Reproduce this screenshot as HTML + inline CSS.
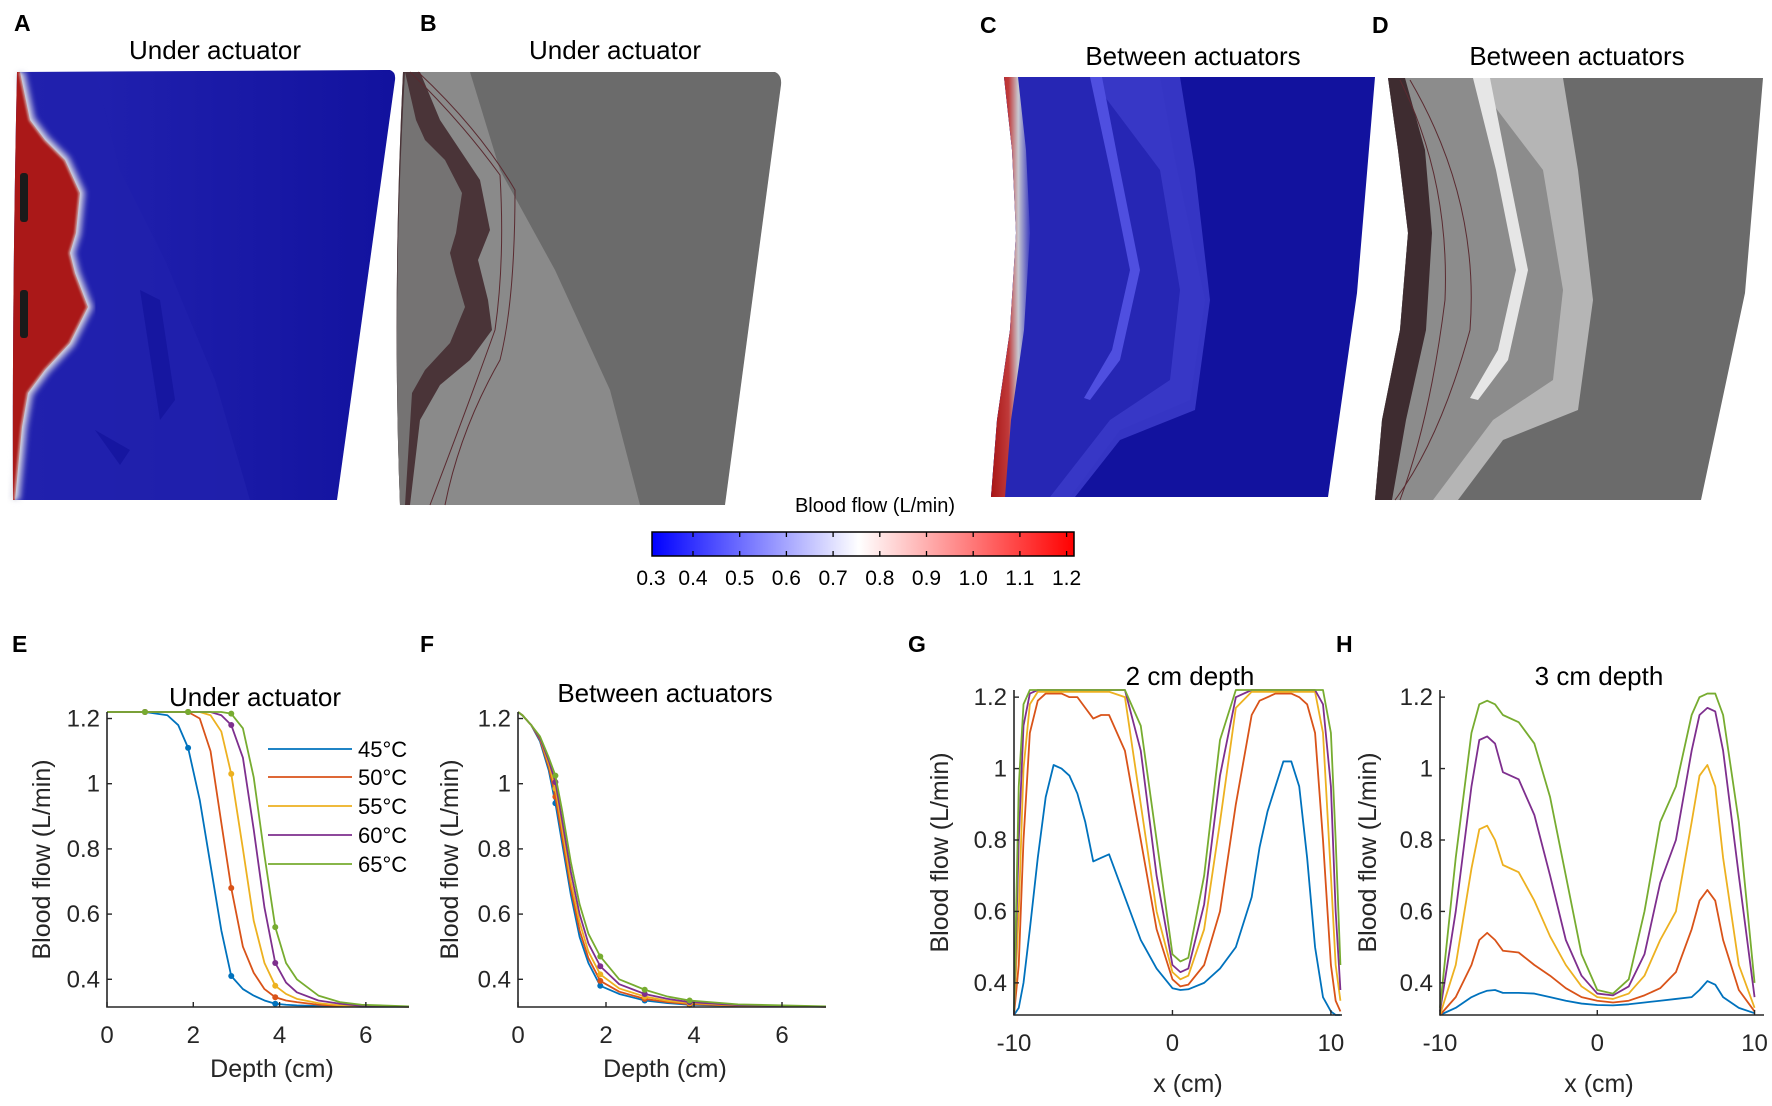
<!DOCTYPE html>
<html><head><meta charset="utf-8"><style>
html,body{margin:0;padding:0;background:#fff;}
svg{display:block;font-family:"Liberation Sans",sans-serif;}
</style></head><body>
<svg id="fig" width="1772" height="1106" viewBox="0 0 1772 1106" xmlns="http://www.w3.org/2000/svg">
<defs>
<linearGradient id="cbar" x1="0" x2="1" y1="0" y2="0">
<stop offset="0" stop-color="#0000ff"/><stop offset="0.49" stop-color="#ffffff"/><stop offset="1" stop-color="#ff0000"/>
</linearGradient>
<linearGradient id="cred" x1="0" x2="1" y1="0" y2="0">
<stop offset="0" stop-color="#a81414"/><stop offset="0.45" stop-color="#c03a3a"/><stop offset="0.7" stop-color="#c8c8d0"/><stop offset="1" stop-color="#3a3ac0"/>
</linearGradient>
<linearGradient id="blueA" x1="0" x2="1" y1="0" y2="0">
<stop offset="0" stop-color="#2424b2"/><stop offset="1" stop-color="#12129e"/>
</linearGradient>
<filter id="blur3"><feGaussianBlur stdDeviation="3"/></filter>
<filter id="blur1"><feGaussianBlur stdDeviation="1.2"/></filter>
</defs>

<!-- Panel A -->
<g>
<text x="14" y="31" font-size="23" font-weight="bold">A</text>
<text x="215" y="59" font-size="26" text-anchor="middle">Under actuator</text>
<path d="M17,72 L390,70 Q396,72 395,80 L337,500 L13,500 Q12,300 17,72 Z" fill="url(#blueA)"/>
<path d="M17,72 L95,72 L120,170 L165,260 L215,380 L250,500 L13,500 Z" fill="#2020ac" opacity="0.8"/>
<path d="M140,290 L160,300 L175,400 L160,420 Z M95,430 L130,450 L120,465 Z" fill="#14149e" opacity="0.8"/>
<path d="M20,72 L30,120 L45,140 L65,160 L80,193 L76,233 L70,253 L75,273 L88,307 L70,343 L45,370 L28,393 L22,427 L15,500" fill="none" stroke="#e0e0ea" stroke-width="10" filter="url(#blur3)" opacity="0.8"/>
<path d="M17,72 L20,72 L30,120 L45,140 L65,160 L80,193 L76,233 L70,253 L75,273 L88,307 L70,343 L45,370 L28,393 L22,427 L15,500 L13,500 Q12,300 17,72 Z" fill="#aa1818"/>
<path d="M20,72 L30,120 L45,140 L65,160 L80,193 L76,233 L70,253 L75,273 L88,307 L70,343 L45,370 L28,393 L22,427 L15,500" fill="none" stroke="#d8d8d8" stroke-width="2" filter="url(#blur1)"/>
<rect x="20" y="173" width="8" height="49" rx="3" fill="#1a1a1a"/>
<rect x="20" y="290" width="8" height="48" rx="3" fill="#1a1a1a"/>
</g>

<!-- Panel B -->
<g>
<text x="420" y="31" font-size="23" font-weight="bold">B</text>
<text x="615" y="59" font-size="26" text-anchor="middle">Under actuator</text>
<path d="M403,72 L775,72 Q782,75 781,85 L725,505 L400,505 Q392,300 403,72 Z" fill="#6b6b6b"/>
<path d="M403,72 L470,72 L500,170 L555,270 L610,390 L640,505 L400,505 Z" fill="#8a8a8a"/>
<path d="M403,72 L420,72 L440,120 L460,150 L480,180 L490,230 L478,260 L488,300 L492,330 L470,360 L440,385 L420,420 L410,505 L400,505 Q392,300 403,72 Z" fill="#4a3438"/>
<path d="M405,72 L416,120 L425,140 L445,160 L462,193 L456,233 L450,253 L455,273 L465,307 L450,343 L425,370 L412,393 L405,505 L400,505 Q392,300 405,72 Z" fill="#7a7a7a" opacity="0.9"/>
<path d="M410,72 Q460,120 500,175 Q505,260 495,330 Q470,400 430,505" fill="none" stroke="#5a2a30" stroke-width="1"/>
<path d="M418,72 Q480,130 515,190 Q515,300 500,360 Q460,430 445,505" fill="none" stroke="#5a2a30" stroke-width="1"/>
</g>

<!-- Panel C -->
<g>
<text x="980" y="33" font-size="23" font-weight="bold">C</text>
<text x="1193" y="65" font-size="26" text-anchor="middle">Between actuators</text>
<path d="M1004,77 L1375,77 L1357,293 L1328,497 L991,497 L997,420 L1010,330 L1016,233 L1012,150 Z" fill="#12129e"/>
<path d="M1004,77 L1160,77 L1175,160 L1205,300 L1190,400 L1120,430 L1070,497 L991,497 L997,420 L1010,330 L1016,233 L1012,150 Z" fill="#2626b4"/>
<path d="M1090,77 L1180,77 L1195,170 L1210,300 L1195,410 L1120,440 L1075,497 L1050,497 L1110,420 L1170,380 L1180,290 L1160,170 Z" fill="#3a3ac8" opacity="0.9"/>
<path d="M1090,77 L1102,77 L1120,170 L1140,270 L1120,360 L1090,400 L1084,398 L1112,350 L1130,270 L1110,170 Z" fill="#4f4fe0"/>
<path d="M1004,77 L1018,77 L1026,150 L1030,233 L1024,330 L1011,420 L1005,497 L991,497 L997,420 L1010,330 L1016,233 L1012,150 Z" fill="url(#cred)"/>
</g>

<!-- Panel D -->
<g>
<text x="1372" y="33" font-size="23" font-weight="bold">D</text>
<text x="1577" y="65" font-size="26" text-anchor="middle">Between actuators</text>
<path d="M1388,78 L1763,78 L1745,293 L1701,500 L1375,500 L1382,420 L1400,330 L1408,233 L1398,150 Z" fill="#6b6b6b"/>
<path d="M1388,78 L1545,78 L1560,160 L1590,300 L1575,400 L1505,430 L1455,500 L1375,500 L1382,420 L1400,330 L1408,233 L1398,150 Z" fill="#8c8c8c"/>
<path d="M1473,78 L1563,78 L1578,170 L1593,300 L1578,410 L1503,440 L1458,500 L1433,500 L1493,420 L1553,380 L1563,290 L1543,170 Z" fill="#b5b5b5"/>
<path d="M1473,78 L1490,78 L1508,170 L1528,270 L1508,360 L1478,400 L1470,398 L1498,350 L1516,270 L1496,170 Z" fill="#e6e6e6"/>
<path d="M1388,78 L1405,78 L1425,150 L1432,233 L1426,330 L1406,420 L1392,500 L1375,500 L1382,420 L1400,330 L1408,233 L1398,150 Z" fill="#3e2c30"/>
<path d="M1400,80 Q1450,180 1445,300 Q1430,420 1400,500" fill="none" stroke="#5a2a30" stroke-width="1"/>
<path d="M1410,80 Q1480,200 1470,330 Q1440,440 1395,500" fill="none" stroke="#5a2a30" stroke-width="1"/>
</g>

<!-- Colorbar -->
<g id="colorbar">
<text x="875" y="512" font-size="20" text-anchor="middle">Blood flow (L/min)</text>
<rect x="652" y="532" width="422" height="24" fill="url(#cbar)" stroke="#000" stroke-width="1.5"/>
</g>

<g id="charts"></g>
</svg>
<script>
// ---------- colorbar data ----------
const cbTicks = [0.4,0.5,0.6,0.7,0.8,0.9,1.0,1.1,1.2];
const cbLabels = ["0.3","0.4","0.5","0.6","0.7","0.8","0.9","1.0","1.1","1.2"];
const cbLabelVals = [0.3,0.4,0.5,0.6,0.7,0.8,0.9,1.0,1.1,1.2];

// ---------- E: under actuator ----------
const depthE = [0,0.88,1.4,1.65,1.88,2.15,2.4,2.65,2.88,3.15,3.4,3.65,3.9,4.15,4.4,4.9,5.4,5.9,7];
const e45 = [1.22,1.22,1.21,1.18,1.11,0.95,0.75,0.55,0.41,0.37,0.35,0.335,0.325,0.322,0.32,0.318,0.317,0.316,0.316];
const e50 = [1.22,1.22,1.22,1.22,1.22,1.20,1.10,0.88,0.68,0.50,0.42,0.37,0.345,0.335,0.33,0.322,0.318,0.317,0.316];
const e55 = [1.22,1.22,1.22,1.22,1.22,1.22,1.21,1.16,1.03,0.80,0.58,0.45,0.38,0.355,0.34,0.327,0.32,0.317,0.316];
const e60 = [1.22,1.22,1.22,1.22,1.22,1.22,1.22,1.21,1.18,1.08,0.86,0.62,0.45,0.39,0.36,0.335,0.325,0.319,0.316];
const e65 = [1.22,1.22,1.22,1.22,1.22,1.22,1.22,1.22,1.215,1.17,1.02,0.78,0.56,0.45,0.40,0.35,0.33,0.322,0.317];
const markerDepthE = [0.88,1.88,2.88,3.9];

// ---------- F: between actuators ----------
const depthF = [0,0.1,0.3,0.5,0.7,0.85,1.0,1.2,1.4,1.6,1.87,2.3,2.88,3.4,3.9,5,7];
const f45 = [1.22,1.21,1.18,1.13,1.04,0.94,0.82,0.66,0.53,0.45,0.38,0.355,0.335,0.327,0.322,0.318,0.316];
const f50 = [1.22,1.21,1.18,1.135,1.05,0.96,0.84,0.68,0.55,0.465,0.395,0.362,0.34,0.33,0.324,0.319,0.316];
const f55 = [1.22,1.21,1.18,1.14,1.06,0.985,0.865,0.70,0.575,0.485,0.415,0.372,0.347,0.334,0.327,0.32,0.316];
const f60 = [1.22,1.21,1.18,1.14,1.07,1.005,0.89,0.73,0.60,0.51,0.44,0.385,0.355,0.34,0.33,0.321,0.316];
const f65 = [1.22,1.21,1.18,1.145,1.08,1.025,0.92,0.76,0.63,0.54,0.47,0.40,0.368,0.347,0.335,0.323,0.317];
const markerDepthF = [0.85,1.87,2.88,3.9];

// ---------- G: 2 cm depth ----------
const xG = [-10,-9.7,-9.4,-9,-8.5,-8,-7.5,-7,-6.5,-6,-5.5,-5,-4.5,-4,-3,-2,-1,0,0.5,1,2,3,4,5,5.5,6,6.5,7,7.5,8,8.5,9,9.5,10,10.3,10.6];
const g45 = [0.31,0.33,0.40,0.55,0.75,0.92,1.01,1.0,0.98,0.93,0.85,0.74,0.75,0.76,0.64,0.52,0.44,0.385,0.38,0.382,0.40,0.44,0.50,0.64,0.78,0.88,0.95,1.02,1.02,0.95,0.75,0.50,0.36,0.32,0.31,0.31];
const g50 = [0.31,0.45,0.8,1.1,1.19,1.21,1.21,1.21,1.2,1.2,1.17,1.14,1.15,1.15,1.05,0.8,0.55,0.41,0.39,0.395,0.45,0.6,0.9,1.15,1.19,1.2,1.21,1.21,1.21,1.2,1.18,1.1,0.8,0.45,0.35,0.32];
const g55 = [0.31,0.6,1.0,1.18,1.215,1.215,1.215,1.215,1.215,1.215,1.215,1.215,1.215,1.215,1.2,0.9,0.6,0.43,0.41,0.42,0.55,0.85,1.17,1.215,1.215,1.215,1.215,1.215,1.215,1.215,1.215,1.215,1.1,0.7,0.45,0.35];
const g60 = [0.31,0.8,1.12,1.21,1.22,1.22,1.22,1.22,1.22,1.22,1.22,1.22,1.22,1.22,1.22,1.05,0.7,0.45,0.43,0.44,0.62,0.98,1.2,1.22,1.22,1.22,1.22,1.22,1.22,1.22,1.22,1.22,1.18,0.95,0.6,0.38];
const g65 = [0.32,0.95,1.18,1.22,1.22,1.22,1.22,1.22,1.22,1.22,1.22,1.22,1.22,1.22,1.22,1.12,0.8,0.48,0.46,0.47,0.7,1.08,1.22,1.22,1.22,1.22,1.22,1.22,1.22,1.22,1.22,1.22,1.22,1.1,0.8,0.45];

// ---------- H: 3 cm depth ----------
const xH = [-10,-9,-8,-7.5,-7,-6.5,-6,-5,-4,-3,-2,-1,0,1,2,3,4,5,6,6.5,7,7.5,8,9,10];
const h45 = [0.31,0.33,0.36,0.37,0.378,0.38,0.372,0.372,0.37,0.36,0.35,0.342,0.338,0.337,0.34,0.345,0.35,0.355,0.36,0.38,0.405,0.395,0.36,0.33,0.315];
const h50 = [0.31,0.36,0.45,0.52,0.54,0.52,0.49,0.485,0.45,0.42,0.385,0.36,0.35,0.345,0.35,0.365,0.385,0.43,0.55,0.63,0.66,0.63,0.52,0.38,0.32];
const h55 = [0.31,0.45,0.72,0.83,0.84,0.80,0.73,0.71,0.63,0.53,0.45,0.39,0.36,0.355,0.37,0.42,0.52,0.60,0.85,0.98,1.01,0.95,0.75,0.45,0.33];
const h60 = [0.32,0.60,0.95,1.08,1.09,1.07,0.99,0.97,0.87,0.70,0.52,0.42,0.37,0.365,0.39,0.48,0.68,0.80,1.05,1.15,1.17,1.16,1.05,0.70,0.36];
const h65 = [0.33,0.75,1.10,1.18,1.19,1.18,1.15,1.13,1.07,0.92,0.70,0.48,0.38,0.37,0.41,0.60,0.85,0.95,1.15,1.20,1.21,1.21,1.15,0.85,0.40];

const seriesNames = ["45°C","50°C","55°C","60°C","65°C"];
const yTicks = [0.4,0.6,0.8,1.0,1.2];
const yTickLabels = ["0.4","0.6","0.8","1","1.2"];
const depthTicks = [0,2,4,6];
const xTicksGH = [-10,0,10];

const colors = ["#0072BD","#D95319","#EDB120","#7E2F8E","#77AC30"];
const NS = "http://www.w3.org/2000/svg";
const root = document.getElementById("charts");

function el(tag, parent){ const e=document.createElementNS(NS,tag); parent.appendChild(e); return e; }
function scale(d0,d1,r0,r1){ return v => r0 + (v-d0)/(d1-d0)*(r1-r0); }

// colorbar ticks
(function(){
  const cb=document.getElementById("colorbar");
  const sx=scale(0.4,1.2,693,1066.6);
  cbTicks.forEach(v=>{
    const t1=el("line",cb); t1.setAttribute("x1",sx(v)); t1.setAttribute("x2",sx(v)); t1.setAttribute("y1",532); t1.setAttribute("y2",537); t1.setAttribute("stroke","#000"); t1.setAttribute("stroke-width","1.3");
    
    
    const t2=el("line",cb); t2.setAttribute("x1",sx(v)); t2.setAttribute("x2",sx(v)); t2.setAttribute("y1",551); t2.setAttribute("y2",556); t2.setAttribute("stroke","#000"); t2.setAttribute("stroke-width","1.3");
    
    
  });
  cbLabelVals.forEach((v,i)=>{
    const t=el("text",cb); t.setAttribute("x",v===0.3?651:sx(v)); t.setAttribute("y",585); t.setAttribute("font-size","21"); t.setAttribute("text-anchor","middle"); t.textContent=cbLabels[i];
    
    
  });
})();

function drawChart(cfg){
  const g=el("g",root);
  
  
  const sx=scale(cfg.xd[0],cfg.xd[1],cfg.xr[0],cfg.xr[1]);
  const sy=scale(cfg.yd[0],cfg.yd[1],cfg.yr[0],cfg.yr[1]);
  const left=cfg.xr[0], right=cfg.xr[1], top=cfg.yr[1], bottom=cfg.yr[0];
  cfg.series.forEach((vals,i)=>{
    const p=el("path",g);
    p.setAttribute("d", vals.map((v,j)=>(j?"L":"M")+sx(cfg.xs[j]).toFixed(2)+","+sy(Math.max(cfg.yd[0],Math.min(cfg.yd[1],v))).toFixed(2)).join(""));
    p.setAttribute("fill","none"); p.setAttribute("stroke",colors[i]); p.setAttribute("stroke-width","1.8"); p.setAttribute("stroke-linejoin","round");
    
    
    if(cfg.markers){
      cfg.markers.forEach(md=>{
        const j=cfg.xs.indexOf(md); if(j<0) return;
        const c=el("circle",g); c.setAttribute("cx",sx(cfg.xs[j])); c.setAttribute("cy",sy(vals[j])); c.setAttribute("r","3"); c.setAttribute("fill",colors[i]);
        
        
      });
    }
  });
  const ax=el("path",g);
  ax.setAttribute("d",`M${left},${top}L${left},${bottom}L${right},${bottom}`);
  ax.setAttribute("fill","none"); ax.setAttribute("stroke","#262626"); ax.setAttribute("stroke-width","1.6");
  
  
  yTicks.forEach((v,i)=>{
    const t=el("line",g); t.setAttribute("x1",left); t.setAttribute("x2",left+5); t.setAttribute("y1",sy(v)); t.setAttribute("y2",sy(v)); t.setAttribute("stroke","#262626"); t.setAttribute("stroke-width","1.4");
    
    
    const l=el("text",g); l.setAttribute("x",left-7); l.setAttribute("y",sy(v)+8); l.setAttribute("font-size","24"); l.setAttribute("text-anchor","end"); l.setAttribute("fill","#262626"); l.textContent=yTickLabels[i];
    
    
  });
  cfg.xticks.forEach(v=>{
    const t=el("line",g); t.setAttribute("x1",sx(v)); t.setAttribute("x2",sx(v)); t.setAttribute("y1",bottom); t.setAttribute("y2",bottom-5); t.setAttribute("stroke","#262626"); t.setAttribute("stroke-width","1.4");
    
    
    const l=el("text",g); l.setAttribute("x",sx(v)); l.setAttribute("y",bottom+36); l.setAttribute("font-size","24"); l.setAttribute("text-anchor","middle"); l.setAttribute("fill","#262626"); l.textContent=String(v);
    
    
  });
  const xl=el("text",g); xl.setAttribute("x",cfg.xlabelX); xl.setAttribute("y",cfg.xlabelY); xl.setAttribute("font-size","25"); xl.setAttribute("text-anchor","middle"); xl.setAttribute("fill","#262626"); xl.textContent=cfg.xlabel;
  
  
  const yl=el("text",g); yl.setAttribute("transform",`translate(${cfg.ylabelX},${(top+bottom)/2}) rotate(-90)`); yl.setAttribute("font-size","25"); yl.setAttribute("text-anchor","middle"); yl.setAttribute("fill","#262626"); yl.textContent="Blood flow (L/min)";
  
  
  const tt=el("text",g); tt.setAttribute("x",cfg.titleX); tt.setAttribute("y",cfg.titleY); tt.setAttribute("font-size","26"); tt.setAttribute("text-anchor","middle"); tt.textContent=cfg.title;
  
  
  const pl=el("text",g); pl.setAttribute("x",cfg.letterX); pl.setAttribute("y",652); pl.setAttribute("font-size","23"); pl.setAttribute("font-weight","bold"); pl.textContent=cfg.letter;
  
  
  return g;
}

const gE = drawChart({name:"chart-e-under-actuator", xs:depthE, series:[e45,e50,e55,e60,e65], markers:markerDepthE,
  xd:[0,7], xr:[107,409], yd:[0.315,1.22], yr:[1007,712], xticks:depthTicks, xlabel:"Depth (cm)", xlabelX:272, xlabelY:1077,
  ylabelX:50, title:"Under actuator", titleX:255, titleY:706, letter:"E", letterX:12});
drawChart({name:"chart-f-between-actuators", xs:depthF, series:[f45,f50,f55,f60,f65], markers:markerDepthF,
  xd:[0,7], xr:[518,826], yd:[0.315,1.22], yr:[1007,712], xticks:depthTicks, xlabel:"Depth (cm)", xlabelX:665, xlabelY:1077,
  ylabelX:458, title:"Between actuators", titleX:665, titleY:702, letter:"F", letterX:420});
drawChart({name:"chart-g-2cm-depth", xs:xG, series:[g45,g50,g55,g60,g65],
  xd:[-10,10.7], xr:[1014,1342], yd:[0.31,1.22], yr:[1015,690], xticks:xTicksGH, xlabel:"x (cm)", xlabelX:1188, xlabelY:1092,
  ylabelX:948, title:"2 cm depth", titleX:1190, titleY:685, letter:"G", letterX:908});
drawChart({name:"chart-h-3cm-depth", xs:xH, series:[h45,h50,h55,h60,h65],
  xd:[-10,10.6], xr:[1440,1764], yd:[0.31,1.22], yr:[1015,690], xticks:xTicksGH, xlabel:"x (cm)", xlabelX:1599, xlabelY:1092,
  ylabelX:1376, title:"3 cm depth", titleX:1599, titleY:685, letter:"H", letterX:1336});

const legY = [749,777,806,835,864];
seriesNames.forEach((n,i)=>{
  const l=el("line",gE); l.setAttribute("x1",268); l.setAttribute("x2",352); l.setAttribute("y1",legY[i]); l.setAttribute("y2",legY[i]); l.setAttribute("stroke",colors[i]); l.setAttribute("stroke-width","1.8");
  
  
  const t=el("text",gE); t.setAttribute("x",358); t.setAttribute("y",legY[i]+8); t.setAttribute("font-size","22"); t.textContent=n;
  
  
});
</script>
</body></html>
